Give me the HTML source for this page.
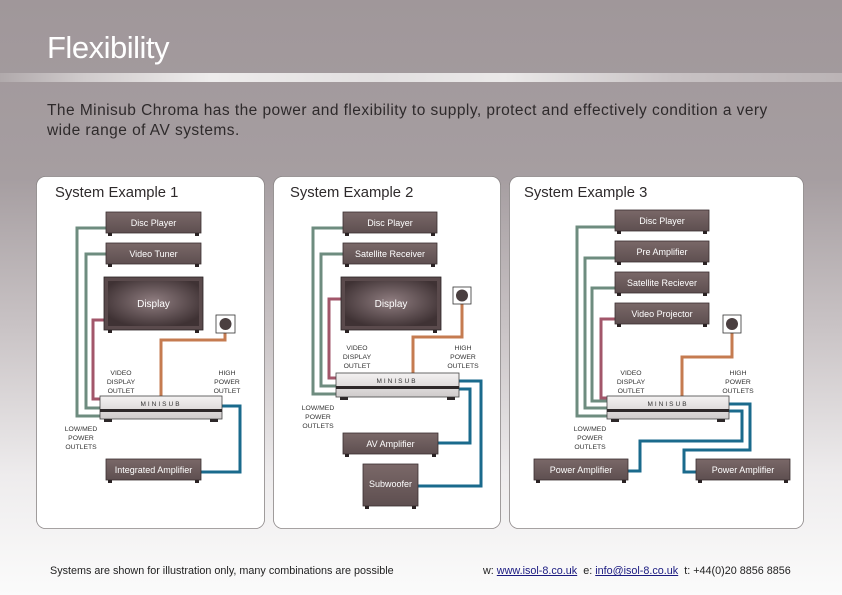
<!DOCTYPE html>
<html><head><meta charset="utf-8"><style>
html,body{margin:0;padding:0;width:842px;height:595px;overflow:hidden}
body{background:linear-gradient(180deg,#a0979a 0%,#a69ea1 30%,#c9c3c5 55%,#eeeced 80%,#fbfbfb 100%);font-family:"Liberation Sans",sans-serif;position:relative}
.band{position:absolute;left:0;top:73px;width:842px;height:9px;background:linear-gradient(90deg,#b0a9ab 0%,#d0cbcc 10%,#eeecec 25%,#e2dfe0 45%,#ebe9e9 60%,#c8c2c4 80%,#bbb4b6 100%)}
.title{position:absolute;left:47px;top:30px;color:#fff;font-size:31px;letter-spacing:-0.5px}
.para{position:absolute;left:47px;top:101px;color:#2e2a2b;font-size:15.5px;line-height:20px;letter-spacing:0.45px;white-space:nowrap}
.foot{position:absolute;top:565px;font-size:10.8px;color:#222;white-space:nowrap}
.foot u{color:#1a1a80}
svg{position:absolute;left:0;top:0}
</style></head><body>
<div class="band"></div>
<div class="title">Flexibility</div>
<div class="para">The Minisub Chroma has the power and flexibility to supply, protect and effectively condition a very<br>wide range of AV systems.</div>
<svg width="842" height="595" viewBox="0 0 842 595">
<defs>
<linearGradient id="dev" x1="0" y1="0" x2="0" y2="1"><stop offset="0" stop-color="#7a6868"/><stop offset="1" stop-color="#5e4f50"/></linearGradient>
<radialGradient id="scr" cx="0.5" cy="0.45" r="0.6"><stop offset="0" stop-color="#8f7d80"/><stop offset="1" stop-color="#3f3234"/></radialGradient>
<linearGradient id="ms" x1="0" y1="0" x2="0" y2="1"><stop offset="0" stop-color="#f4f2f2"/><stop offset="1" stop-color="#cfcbcb"/></linearGradient>
</defs>
<g fill="#fff" stroke="#8a8586" stroke-width="0.8">
<rect x="36.5" y="176.5" width="228" height="352" rx="9"/>
<rect x="273.5" y="176.5" width="227" height="352" rx="9"/>
<rect x="509.5" y="176.5" width="294" height="352" rx="9"/>
</g>
<g font-size="14.8" fill="#2e2a2b">
<text x="55" y="197">System Example 1</text>
<text x="290" y="197">System Example 2</text>
<text x="524" y="197">System Example 3</text>
</g>
<g fill="none" stroke-width="3">
<path d="M106 228H77V416H100" stroke="#6e8c7f"/>
<path d="M106 254H86V408H100" stroke="#6e8c7f"/>
<path d="M104 320H93V399H100" stroke="#a2566a"/>
<path d="M225 333V340H161V396" stroke="#c57b50"/>
<path d="M222 406H240V472H201" stroke="#1a6a8c"/>
<path d="M343 228H313V394H336" stroke="#6e8c7f"/>
<path d="M343 254H321V386H336" stroke="#6e8c7f"/>
<path d="M341 299H329V378H336" stroke="#a2566a"/>
<path d="M462 304V337H413V373" stroke="#c57b50"/>
<path d="M459 381H481V486H418" stroke="#1a6a8c"/>
<path d="M459 389H470V443H438" stroke="#1a6a8c"/>
<path d="M615 227H577V416H607" stroke="#6e8c7f"/>
<path d="M615 258H585V408H607" stroke="#6e8c7f"/>
<path d="M615 288H592V401H607" stroke="#6e8c7f"/>
<path d="M615 319H601V398H607" stroke="#a2566a"/>
<path d="M732 333V357H682V396" stroke="#c57b50"/>
<path d="M729 404H750V450H684V472H696" stroke="#1a6a8c"/>
<path d="M729 411H742V441H640V471H628" stroke="#1a6a8c"/>
</g>
<g stroke="#3a2f30" stroke-width="0.8" fill="url(#dev)">
<rect x="106" y="212" width="95" height="21"/><rect x="106" y="243" width="95" height="21"/><rect x="106" y="459" width="95" height="21"/>
<rect x="343" y="212" width="94" height="21"/><rect x="343" y="243" width="94" height="21"/><rect x="343" y="433" width="95" height="21"/><rect x="363" y="464" width="55" height="42"/>
<rect x="615" y="210" width="94" height="21"/><rect x="615" y="241" width="94" height="21"/><rect x="615" y="272" width="94" height="21"/><rect x="615" y="303" width="94" height="21"/>
<rect x="534" y="459" width="94" height="21"/><rect x="696" y="459" width="94" height="21"/>
</g>
<g fill="#2a2223">
<rect x="108" y="233" width="4" height="3"/><rect x="195" y="233" width="4" height="3"/>
<rect x="108" y="264" width="4" height="3"/><rect x="195" y="264" width="4" height="3"/>
<rect x="108" y="480" width="4" height="3"/><rect x="195" y="480" width="4" height="3"/>
<rect x="345" y="233" width="4" height="3"/><rect x="431" y="233" width="4" height="3"/>
<rect x="345" y="264" width="4" height="3"/><rect x="431" y="264" width="4" height="3"/>
<rect x="345" y="454" width="4" height="3"/><rect x="432" y="454" width="4" height="3"/>
<rect x="365" y="506" width="4" height="3"/><rect x="412" y="506" width="4" height="3"/>
<rect x="617" y="231" width="4" height="3"/><rect x="703" y="231" width="4" height="3"/>
<rect x="617" y="262" width="4" height="3"/><rect x="703" y="262" width="4" height="3"/>
<rect x="617" y="293" width="4" height="3"/><rect x="703" y="293" width="4" height="3"/>
<rect x="617" y="324" width="4" height="3"/><rect x="703" y="324" width="4" height="3"/>
<rect x="536" y="480" width="4" height="3"/><rect x="622" y="480" width="4" height="3"/>
<rect x="698" y="480" width="4" height="3"/><rect x="784" y="480" width="4" height="3"/>
<rect x="108" y="330" width="4" height="3"/><rect x="195" y="330" width="4" height="3"/>
<rect x="345" y="330" width="4" height="3"/><rect x="433" y="330" width="4" height="3"/>
</g>
<rect x="104" y="277" width="99" height="53" fill="#5a4a4c" stroke="#2a2223" stroke-width="0.8"/>
<rect x="108" y="281" width="91" height="45" fill="url(#scr)"/>
<rect x="341" y="277" width="100" height="53" fill="#5a4a4c" stroke="#2a2223" stroke-width="0.8"/>
<rect x="345" y="281" width="92" height="45" fill="url(#scr)"/>
<g fill="#fff" stroke="#333" stroke-width="0.8"><rect x="216" y="315" width="19" height="18"/><rect x="453" y="287" width="18" height="17"/><rect x="723" y="315" width="18" height="18"/></g>
<g fill="#4a3f40"><circle cx="225.5" cy="324" r="6"/><circle cx="462" cy="295.5" r="6"/><circle cx="732" cy="324" r="6"/></g>
<g>
<rect x="100" y="396" width="122" height="23" fill="url(#ms)" stroke="#444" stroke-width="0.8"/><rect x="100" y="409" width="122" height="3" fill="#2d2829"/><rect x="104" y="419" width="8" height="3" fill="#2d2829"/><rect x="210" y="419" width="8" height="3" fill="#2d2829"/>
<rect x="336" y="373" width="123" height="24" fill="url(#ms)" stroke="#444" stroke-width="0.8"/><rect x="336" y="386" width="123" height="3" fill="#2d2829"/><rect x="340" y="397" width="8" height="3" fill="#2d2829"/><rect x="447" y="397" width="8" height="3" fill="#2d2829"/>
<rect x="607" y="396" width="122" height="23" fill="url(#ms)" stroke="#444" stroke-width="0.8"/><rect x="607" y="409" width="122" height="3" fill="#2d2829"/><rect x="611" y="419" width="8" height="3" fill="#2d2829"/><rect x="717" y="419" width="8" height="3" fill="#2d2829"/>
</g>
<g font-size="6.5" fill="#333" text-anchor="middle" letter-spacing="2">
<text x="161" y="406">MINISUB</text><text x="397" y="383">MINISUB</text><text x="668" y="406">MINISUB</text>
</g>
<g font-size="9" fill="#fff" text-anchor="middle">
<text x="153.5" y="226">Disc Player</text><text x="153.5" y="257">Video Tuner</text><text x="153.5" y="473">Integrated Amplifier</text>
<text x="390" y="226">Disc Player</text><text x="390" y="257">Satellite Receiver</text><text x="390.5" y="447">AV Amplifier</text><text x="390.5" y="487">Subwoofer</text>
<text x="662" y="224">Disc Player</text><text x="662" y="255">Pre Amplifier</text><text x="662" y="286">Satellite Reciever</text><text x="662" y="317">Video Projector</text>
<text x="581" y="473">Power Amplifier</text><text x="743" y="473">Power Amplifier</text>
<text x="153.5" y="307" font-size="10">Display</text><text x="391" y="307" font-size="10">Display</text>
</g>
<g font-size="6.8" fill="#333" text-anchor="middle">
<text x="121" y="375">VIDEO</text><text x="121" y="384">DISPLAY</text><text x="121" y="393">OUTLET</text>
<text x="227" y="375">HIGH</text><text x="227" y="384">POWER</text><text x="227" y="393">OUTLET</text>
<text x="81" y="431">LOW/MED</text><text x="81" y="440">POWER</text><text x="81" y="449">OUTLETS</text>
<text x="357" y="350">VIDEO</text><text x="357" y="359">DISPLAY</text><text x="357" y="368">OUTLET</text>
<text x="463" y="350">HIGH</text><text x="463" y="359">POWER</text><text x="463" y="368">OUTLETS</text>
<text x="318" y="410">LOW/MED</text><text x="318" y="419">POWER</text><text x="318" y="428">OUTLETS</text>
<text x="631" y="375">VIDEO</text><text x="631" y="384">DISPLAY</text><text x="631" y="393">OUTLET</text>
<text x="738" y="375">HIGH</text><text x="738" y="384">POWER</text><text x="738" y="393">OUTLETS</text>
<text x="590" y="431">LOW/MED</text><text x="590" y="440">POWER</text><text x="590" y="449">OUTLETS</text>
</g>
</svg>
<div class="foot" style="left:50px">Systems are shown for illustration only, many combinations are possible</div>
<div class="foot" style="left:483px">w: <u>www.isol-8.co.uk</u> &nbsp;e: <u>info@isol-8.co.uk</u> &nbsp;t: +44(0)20 8856 8856</div>
</body></html>
